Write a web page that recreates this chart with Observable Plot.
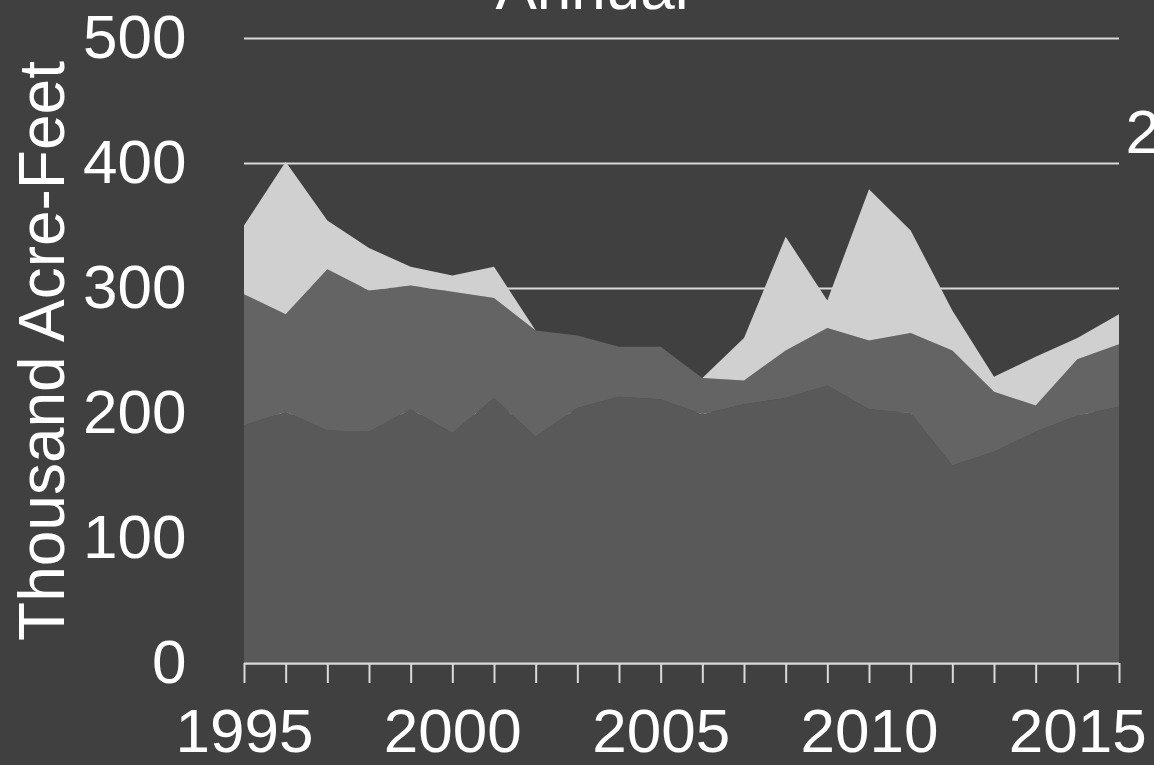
<!DOCTYPE html>
<html>
<head>
<meta charset="utf-8">
<script src="https://cdn.jsdelivr.net/npm/d3@7"></script>
<script src="https://cdn.jsdelivr.net/npm/@observablehq/plot@0.6"></script>
<style>
  html, body { margin: 0; padding: 0; background: #404040; overflow: hidden; }
</style>
</head>
<body>
<div id="chart"></div>
<script>
const years = [1995,1996,1997,1998,1999,2000,2001,2002,2003,2004,2005,2006,2007,2008,2009,2010,2011,2012,2013,2014,2015,2016];
const seriesNames = ["Series 1", "Series 2", "Series 3"];
const series1 = [190,201,186,185,203,184,212,181,204,213,211,199,207,212,222,203,200,158,169,185,198,205];
const series2 = [105,78,129,113,99,113,80,85,58,40,42,29,19,38,46,55,64,92,48,21,45,50];
const series3 = [55,122,39,34,15,13,25,0,0,0,0,0,34,91,22,121,82,32,12,39,17,24];
const seriesColors = ["#595959", "#646464", "#d0d0d0"];
const yTicks = [0,100,200,300,400,500];
const xLabelYears = [1995,2000,2005,2010,2015];
const titleText = "Annual";
const yLabelText = "Thousand Acre-Feet";
const sideText = "2";

const values = [series1, series2, series3];
const data = [];
seriesNames.forEach((s, i) => years.forEach((yr, j) => data.push({year: yr, series: s, value: values[i][j]})));

const font = "'Liberation Sans', Arial, Helvetica, sans-serif";

const chart = Plot.plot({
  width: 1154,
  height: 765,
  marginLeft: 244,
  marginRight: 35,
  marginTop: 38,
  marginBottom: 102,
  style: {background: "#404040", color: "white", fontFamily: font, fontSize: "62px", overflow: "visible"},
  x: {domain: [1995, 2016]},
  y: {domain: [0, 500]},
  color: {domain: seriesNames, range: seriesColors},
  marks: [
    Plot.gridY(yTicks, {stroke: "#d9d9d9", strokeOpacity: 1, strokeWidth: 2}),
    Plot.areaY(data, {x: "year", y: "value", fill: "series", order: seriesNames}),
    Plot.ruleY([0], {stroke: "#d9d9d9", strokeWidth: 2}),
    Plot.axisX(years, {
      tickSize: 20, tickPadding: 24, stroke: "#d9d9d9", strokeWidth: 2, fill: "white",
      tickFormat: d => xLabelYears.includes(d) ? String(d) : "",
      fontSize: 62, label: null
    }),
    Plot.axisY(yTicks, {tickSize: 0, tickPadding: 58, fill: "white", fontSize: 62, label: null}),
    Plot.text([yLabelText], {frameAnchor: "left", rotate: -90, textAnchor: "middle", dx: -181, lineAnchor: "bottom", fill: "white", fontSize: 64}),
    Plot.text([titleText], {frameAnchor: "top", dx: -90, dy: -30, lineAnchor: "bottom", fill: "white", fontSize: 62}),
    Plot.text([sideText], {frameAnchor: "top-right", textAnchor: "start", dx: 6, dy: 114, lineAnchor: "bottom", fill: "white", fontSize: 62})
  ]
});
document.getElementById("chart").appendChild(chart);
</script>
</body>
</html>
